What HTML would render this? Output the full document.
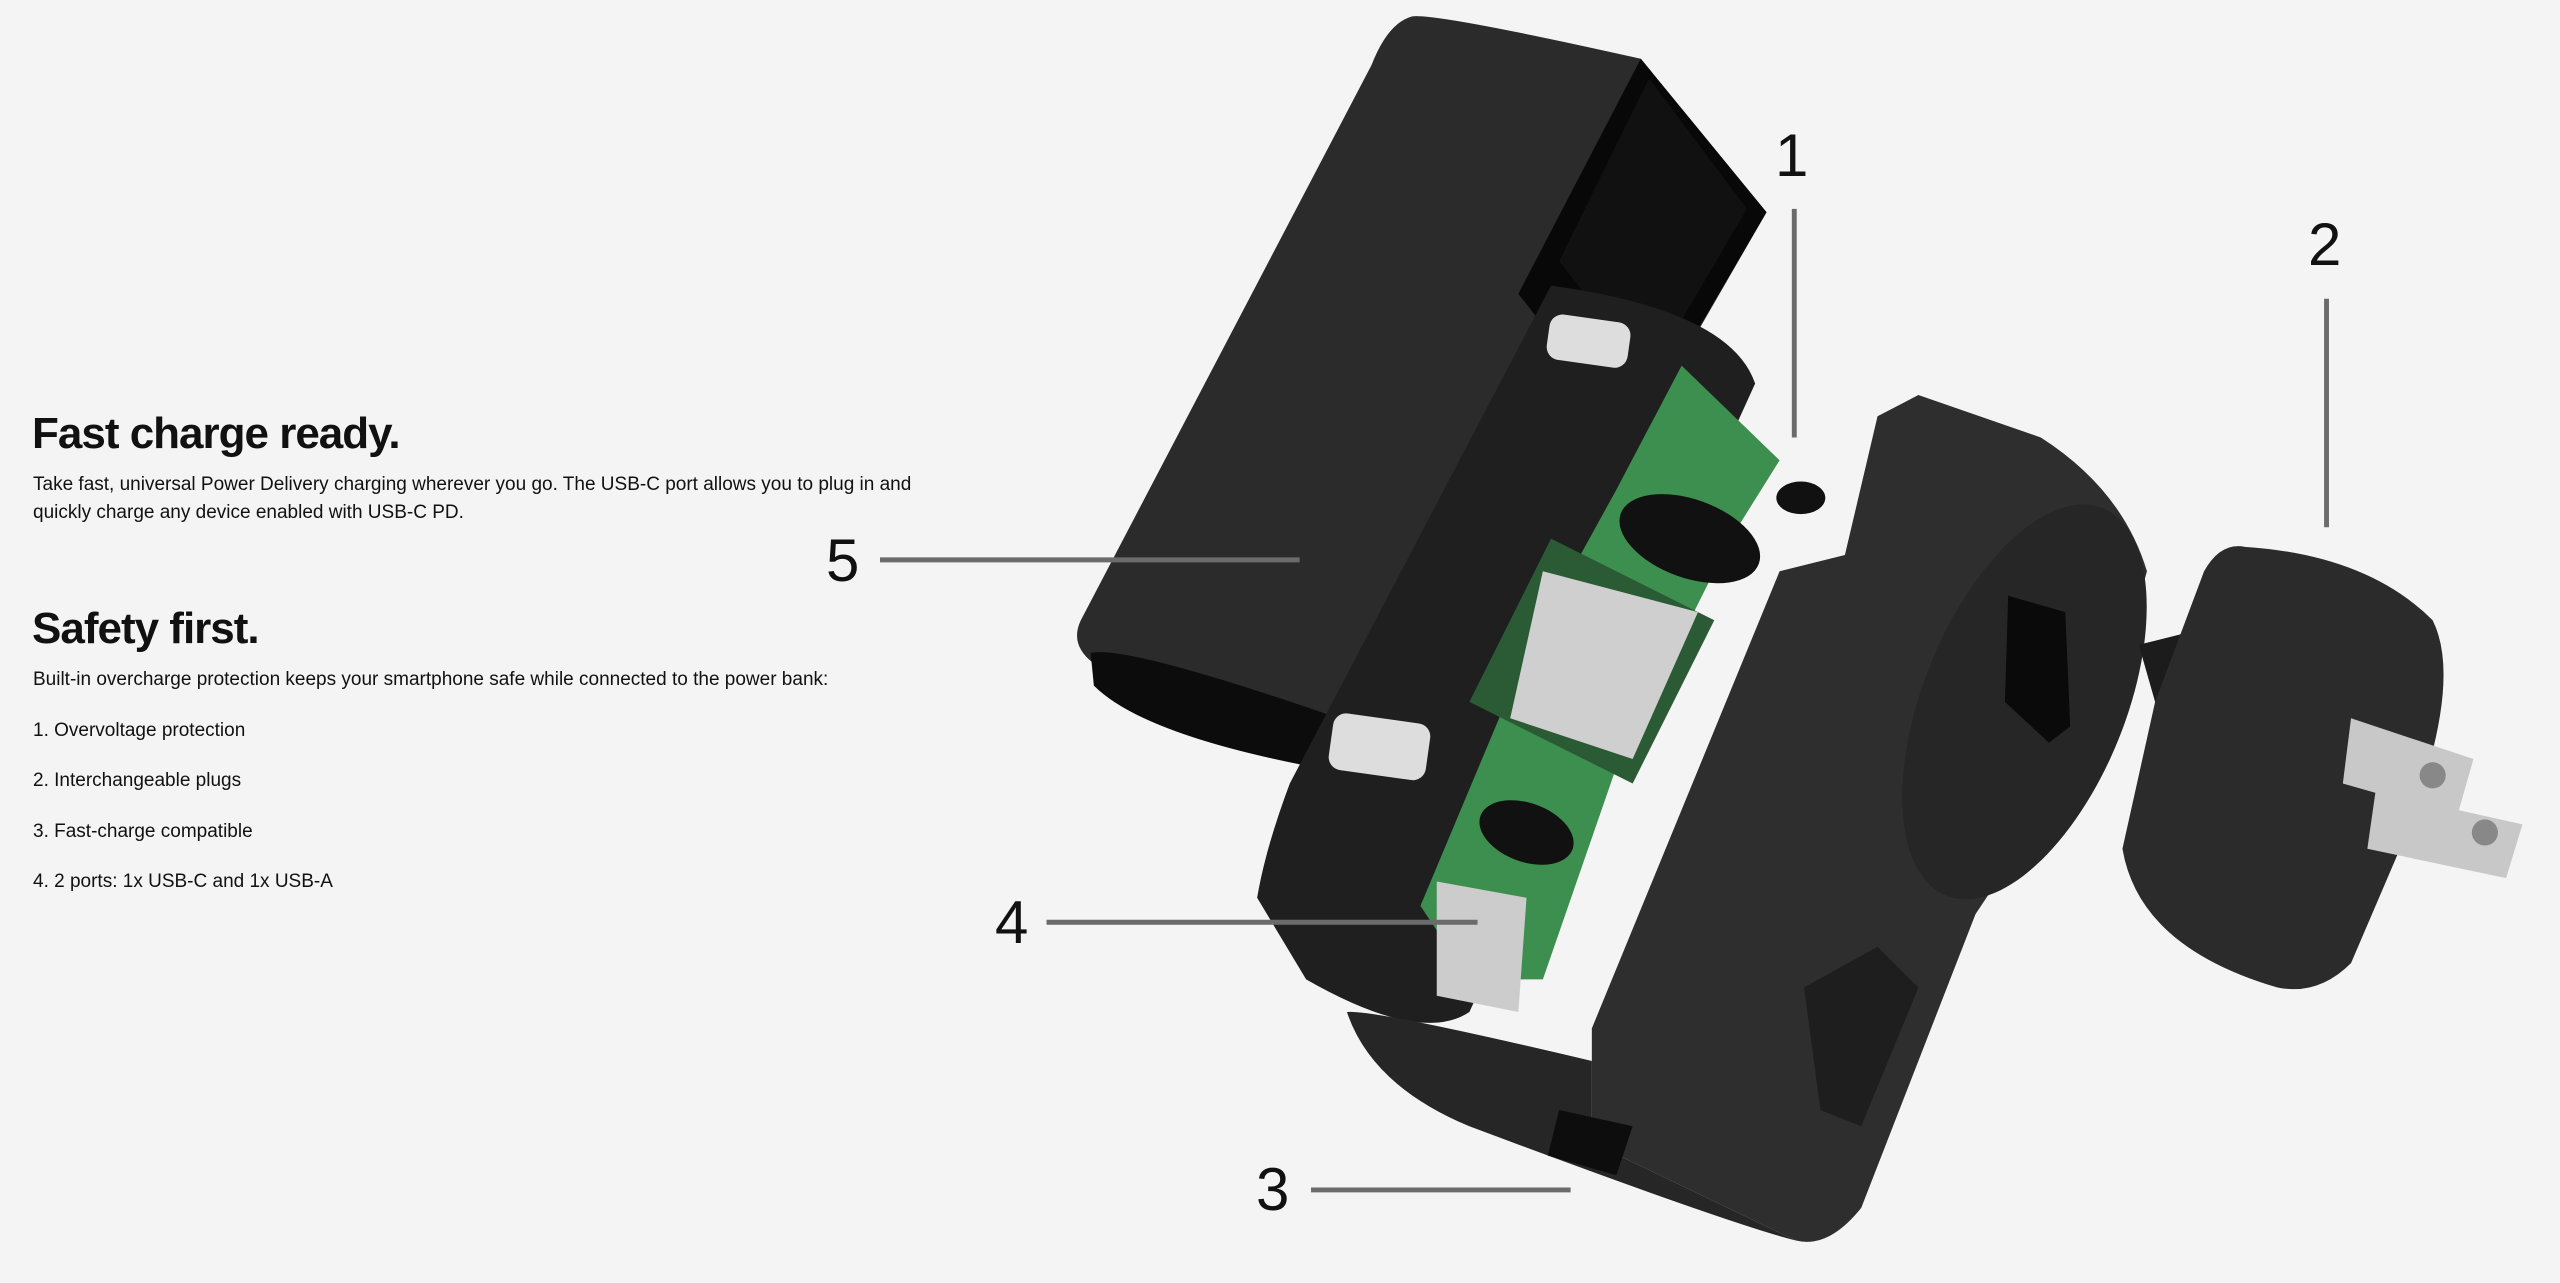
<!DOCTYPE html>
<html><head><meta charset="utf-8"><style>
html,body{margin:0;padding:0}
body{width:2560px;height:1283px;background:#f4f4f4;position:relative;overflow:hidden;font-family:"Liberation Sans",sans-serif;color:#111}
.t{position:absolute;left:33px;white-space:nowrap}
h1{position:absolute;left:32px;margin:0;font-size:44px;font-weight:700;letter-spacing:-1px;line-height:1}
p{margin:0}
.b{font-size:19px;line-height:28px}
.n{position:absolute;font-size:60px;line-height:1;color:#111}
svg{position:absolute;left:0;top:0}
</style></head><body>
<svg width="2560" height="1283" viewBox="0 0 1568 786" preserveAspectRatio="none">
<!-- back shell -->
<path d="M865,10 Q880,8 1005,36 L1082,130 L1010,255 L818,440 Q800,450 700,420 Q650,405 662,380 L840,40 Q850,14 865,10Z" fill="#2b2b2b"/>
<path d="M1005,36 L1082,130 L1000,270 L930,180Z" fill="#080808"/>
<path d="M1010,48 L1070,128 L1010,230 L955,160Z" fill="#111"/>
<path d="M668,400 Q690,395 820,440 L805,470 Q700,450 670,420Z" fill="#0c0c0c"/>
<!-- inner cylinder -->
<path d="M950,175 Q1060,190 1075,235 L900,620 Q870,640 800,600 L770,550 Q775,520 790,480Z" fill="#1f1f1f"/>
<rect x="948" y="195" width="50" height="28" rx="8" fill="#ddd" transform="rotate(8 973 209)"/>
<rect x="815" y="440" width="60" height="35" rx="8" fill="#ddd" transform="rotate(8 845 457)"/>
<!-- pcb -->
<path d="M1030,224 L1090,282 L1060,330 L990,470 L945,600 L900,600 L870,555 L935,400 L990,300Z" fill="#3c8f4e"/>
<path d="M950,330 L1050,380 L1000,480 L900,430Z" fill="#2a5b34"/>
<path d="M945,350 L1040,375 L1000,465 L925,440Z" fill="#cfcfcf"/>
<ellipse cx="1035" cy="330" rx="45" ry="24" fill="#111" transform="rotate(20 1035 330)"/>
<ellipse cx="1103" cy="305" rx="15" ry="10" fill="#111"/>
<ellipse cx="935" cy="510" rx="30" ry="18" fill="#111" transform="rotate(20 935 510)"/>
<path d="M880,540 L935,550 L930,620 L880,610Z" fill="#ccc"/>
<!-- front housing -->
<path d="M1175,242 L1250,268 Q1300,300 1315,350 L1290,440 L1210,560 L1140,740 Q1120,765 1100,760 L975,700 L975,630 L1090,350 L1130,340 L1150,255Z" fill="#2e2e2e"/>
<ellipse cx="1240" cy="430" rx="62" ry="128" fill="#262626" transform="rotate(22 1240 430)"/>
<path d="M1230,365 L1265,375 L1268,445 L1255,455 L1228,430Z" fill="#0a0a0a"/>
<path d="M1105,605 L1150,580 L1175,605 L1140,690 L1115,680Z" fill="#1e1e1e"/>
<!-- bottom cap -->
<path d="M825,620 Q840,618 975,650 L975,700 L1100,760 Q1060,750 900,690 Q840,665 825,620Z" fill="#262626"/>
<path d="M955,680 L1000,690 L990,720 L948,708Z" fill="#0d0d0d"/>
<!-- plug -->
<path d="M1310,395 L1350,385 L1360,425 L1320,430Z" fill="#1c1c1c"/>
<path d="M1375,335 Q1450,340 1490,380 Q1510,420 1470,520 L1440,590 Q1420,610 1395,605 Q1310,580 1300,520 L1320,430 L1350,350 Q1360,332 1375,335Z" fill="#2b2b2b"/>
<path d="M1440,440 L1515,465 L1505,500 L1435,480Z" fill="#c8c8c8"/>
<path d="M1455,485 L1545,505 L1535,538 L1450,520Z" fill="#c8c8c8"/>
<circle cx="1490" cy="475" r="8" fill="#888"/><circle cx="1522" cy="510" r="8" fill="#888"/>
<!-- leader lines -->
<g stroke="#6b6b6b" stroke-width="3" fill="none">
<line x1="1099" y1="128" x2="1099" y2="268"/>
<line x1="1425" y1="183" x2="1425" y2="323"/>
<line x1="539" y1="343" x2="796" y2="343"/>
<line x1="641" y1="565" x2="905" y2="565"/>
<line x1="803" y1="729" x2="962" y2="729"/>
</g>
</svg>
<div class="n" style="left:1775px;top:126px">1</div>
<div class="n" style="left:2308px;top:215px">2</div>
<div class="n" style="left:826px;top:531px">5</div>
<div class="n" style="left:995px;top:893px">4</div>
<div class="n" style="left:1256px;top:1160px">3</div>

<h1 style="top:412px">Fast charge ready.</h1>
<div class="t b" style="top:471px"><p>Take fast, universal Power Delivery charging wherever you go. The USB-C port allows you to plug in and</p><p>quickly charge any device enabled with USB-C PD.</p></div>
<h1 style="top:607px">Safety first.</h1>
<div class="t b" style="top:666px">Built-in overcharge protection keeps your smartphone safe while connected to the power bank:</div>
<div class="t b" style="top:717px">1. Overvoltage protection</div>
<div class="t b" style="top:767px">2. Interchangeable plugs</div>
<div class="t b" style="top:818px">3. Fast-charge compatible</div>
<div class="t b" style="top:868px">4. 2 ports: 1x USB-C and 1x USB-A</div>
</body></html>
